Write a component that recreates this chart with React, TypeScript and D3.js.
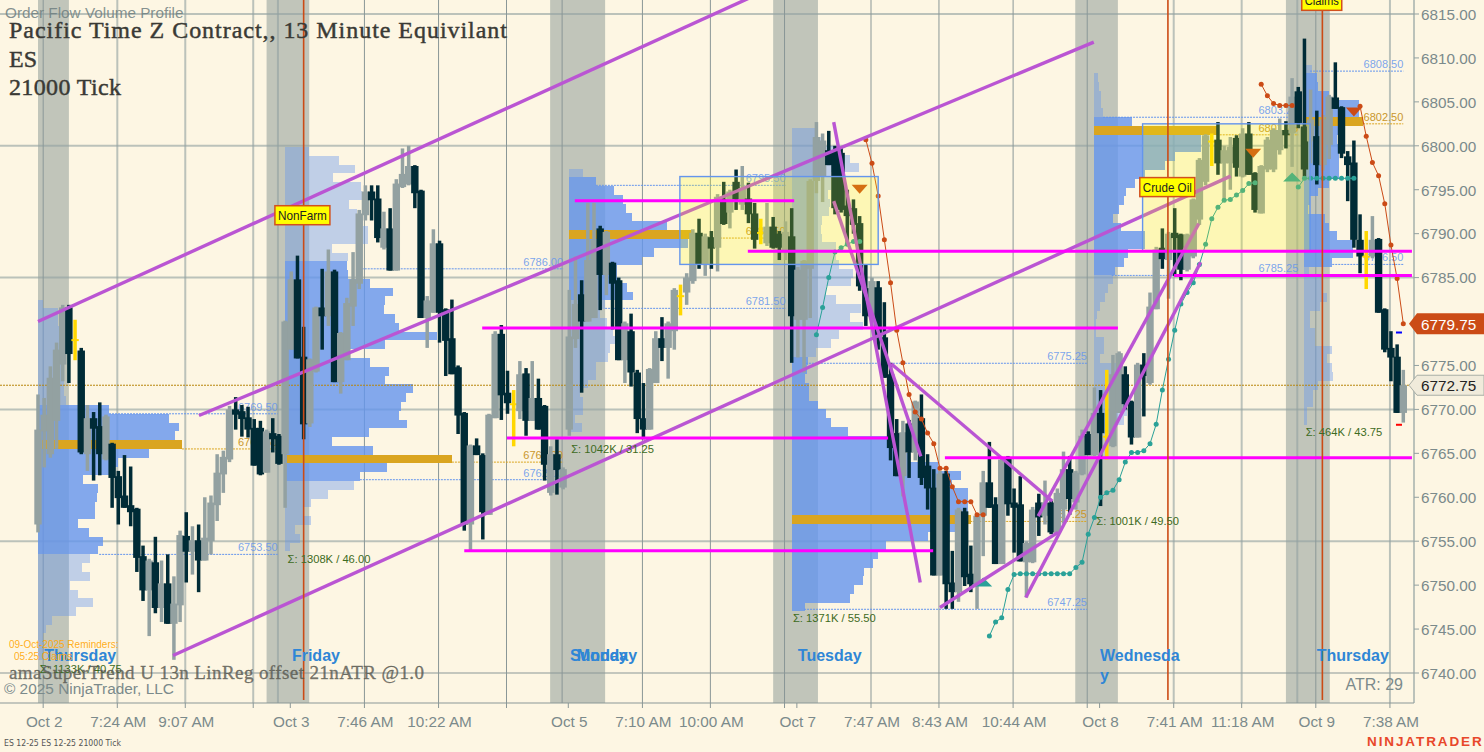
import * as d3 from "d3";

const WIDTH = 1484;
const HEIGHT = 752;

// bar values
const barOpen = [
  6756.9,6767.5,6764.9,6768.7,6775.1,6781.6,6778,6776.7,6764.9,6769,
  6768.1,6764.3,6766.1,6762.4,6760.2,6759.1,6758.7,6753.3,6749.4,6752.6,
  6747.4,6750.2,6745.6,6747.7,6755.6,6753.8,6755.1,6752.8,6755,6759.1,
  6762.6,6764.3,6770,6769.8,6769.1,6767.9,6767.9,6762.8,6767.3,6767,
  6764.9,6776.8,6784.8,6776,6768.4,6774.3,6781.6,6780.6,6785.7,6773.1,
  6775.6,6781.7,6784.3,6792.1,6794.8,6794,6788.4,6790.6,6785.8,6795.3,
  6795.6,6797.7,6794.9,6780.4,6781,6788.9,6781.4,6778.1,6774.8,6769.6,
  6756.9,6765.9,6764.8,6758,6769,6778.6,6771.9,6770.7,6769.8,6774.1,
  6768.7,6771.3,6770.4,6760.5,6764.9,6761.1,6767.7,6778,6783.1,6780,
  6780.4,6790.6,6785.3,6786.7,6784.7,6775.6,6778.9,6774.2,6769,6767.7,
  6773,6778.1,6777,6778.9,6783,6783.3,6784.6,6790.1,6786.5,6789.6,
  6788.4,6793.9,6792.4,6795.9,6793.3,6794,6792.3,6790.2,6788.9,6790.8,
  6790,6788,6789.7,6780.2,6780.2,6786,6796,6796.5,6799.5,6799.5,
  6799.2,6793.2,6792.9,6791.2,6783.8,6780.6,6783.9,6778.2,6774,6767.3,
  6762.4,6768.4,6765.1,6769,6763.6,6761.1,6751.1,6762.7,6750.3,6749.2,
  6758.4,6751.3,6750.1,6757.9,6761.7,6759.2,6752.4,6764.5,6759.4,6759.2,
  6752.6,6752.6,6759.4,6757.9,6759.4,6756,6758.6,6763.2,6759.4,6762.6,
  6767.2,6764.8,6769.6,6767,6765.8,6769.6,6774,6770.9,6766.8,6775.1,
  6773,6781.4,6788.4,6787,6790.1,6789.9,6785.9,6787.4,6791.6,6795.9,
  6800.6,6800.7,6798,6798,6800.9,6796.5,6801.4,6796.9,6792.3,6797.3,
  6797.3,6799.5,6801.8,6801.4,6806.2,6802.2,6800.5,6801.1,6797.8,6800.1,
  6805.5,6804.4,6798.8,6798.1,6789.3,6787.5,6787.4,6789.4,6781.4,6777,
  6776,6769.6,
];
const barHigh = [
  6771.7,6771.3,6774.9,6777.6,6781.9,6781.9,6780.2,6777,6770.5,6769.7,
  6770.8,6769.4,6766.2,6763,6764.8,6763.5,6758.8,6754.5,6753,6755.5,
  6752.8,6753.5,6751,6756.2,6758.3,6756.7,6756.9,6760,6760.2,6764.9,
  6765.3,6770.4,6771.4,6770.5,6770.3,6768.9,6768.7,6767.7,6769,6767.2,
  6780.1,6785.7,6787.5,6779.4,6775.8,6781.7,6786,6788.2,6785.9,6778.8,
  6782.7,6787.9,6792.7,6795.5,6795.5,6795.5,6792.5,6792.9,6796.2,6799.7,
  6800,6797.8,6795,6782.9,6790.5,6789.2,6781.5,6782.5,6775,6769.7,
  6766,6766.7,6765,6769.5,6778.9,6779.6,6774.4,6772.2,6775.5,6774.7,
  6775.5,6773.5,6770.5,6765.8,6766.6,6763.4,6783.6,6787.4,6784.7,6793.5,
  6793.5,6790.9,6790.3,6786.8,6785,6780,6780.9,6774.5,6773,6774.7,
  6778.9,6780.5,6780,6783.8,6784.2,6785.5,6790.5,6791.7,6790,6790.3,
  6794.5,6795.9,6795,6797.3,6797.7,6795.8,6793.5,6791.7,6793.5,6791.9,
  6790.3,6791.4,6792.9,6786.2,6787,6796.2,6802.7,6801.4,6801.7,6800,
  6799.8,6795,6793.9,6792,6786.5,6785,6784.6,6782.2,6775.3,6768.9,
  6768.7,6768.8,6771,6771.7,6764.9,6763.2,6763,6763,6753.9,6758.8,
  6758.8,6754.5,6758.1,6763,6766.3,6760,6764.5,6764.7,6761,6762.4,
  6755,6758.9,6760.4,6761.9,6759.6,6761,6765.2,6764.7,6763,6767.7,
  6767.5,6772.5,6772.2,6774.5,6776.2,6776.6,6774.9,6771,6775.3,6776.4,
  6783.3,6788.5,6790.6,6790.2,6792.9,6790,6790,6794,6798.6,6801.3,
  6801.4,6802.7,6800,6801,6801.2,6802,6802.7,6797,6797.8,6801,
  6802,6803.1,6802.8,6807.7,6806.7,6812.2,6806.4,6804,6803.5,6805.8,
  6809.5,6804.5,6799.4,6800.6,6792.2,6790.3,6792,6789.5,6781.5,6778.9,
  6777.4,6774.5,
];
const barLow = [
  6756,6763.4,6764.5,6765.5,6773.2,6773,6775.6,6764.9,6763,6761.9,
  6762.5,6764.2,6758.8,6756.9,6758.8,6756.7,6751.5,6748.2,6744.2,6746.8,
  6745.8,6745.6,6741.5,6745.8,6750.3,6751.2,6749.2,6752.8,6753.5,6757.3,
  6760.5,6764,6767.7,6766.9,6766.8,6763.6,6762.5,6762.8,6765.1,6763.7,
  6758.8,6776.8,6775.8,6766.6,6768,6774.2,6776.8,6779.5,6773.1,6771.8,
  6775.6,6779.5,6783.7,6791.5,6791.5,6789,6788.2,6785.8,6785.8,6795.2,
  6795.5,6792.9,6780.4,6777,6781,6777.6,6773.8,6774,6767.2,6756.2,
  6754,6764.8,6755.2,6758,6769,6768.8,6769.5,6765.8,6768.9,6767,
  6768.7,6767.7,6761.9,6760.2,6760.3,6760.9,6767,6777,6771.9,6780,
  6780.4,6781.3,6783,6779.1,6775.6,6773,6772.6,6767.3,6766.6,6767.7,
  6773,6775.5,6773.5,6776.8,6780.7,6781.9,6784.3,6786,6785.2,6786,
  6785.7,6791,6790.6,6792.7,6792.7,6791.2,6788.3,6788.8,6788.6,6788.3,
  6787,6787,6775.3,6775.9,6774.2,6780.4,6794.6,6793.6,6797.8,6792.2,
  6792.4,6788.9,6790,6783.5,6779.5,6779.5,6776.8,6773.6,6764.2,6762.4,
  6760.1,6762.2,6764.2,6761.4,6758.6,6751.1,6751.1,6747.3,6747.3,6748.1,
  6749.9,6749.2,6747.3,6753.3,6758.8,6752.4,6752.4,6757.9,6753.7,6752.7,
  6748.6,6752.5,6755.6,6756.9,6755.8,6755.8,6757,6758,6758.6,6762.5,
  6764.8,6764.7,6759,6764.3,6765.7,6769.6,6770,6766,6766.8,6769.2,
  6772.8,6781.4,6786,6782.6,6785.2,6784.7,6785.7,6787.2,6791,6795.5,
  6797.7,6796.7,6793.9,6795,6796.5,6796.4,6796.7,6792.4,6792.3,6797,
  6797,6799,6799.7,6797.6,6802,6796.5,6798,6795.6,6797.2,6798.5,
  6804.2,6798.6,6793.7,6788.4,6785.5,6783.7,6787.2,6781,6776.5,6773.2,
  6769.6,6768.5,
];
const barClose = [
  6767.7,6769.4,6773.6,6776.8,6781.6,6776.3,6777.9,6765.1,6769,6767.8,
  6764.9,6769.2,6762.2,6759.9,6758.8,6758.3,6753.1,6749.4,6752.8,6747.4,
  6750.2,6745.6,6747.9,6755.7,6753.8,6755.1,6752.8,6755.4,6759.4,6762.8,
  6764.6,6770,6769.4,6768.9,6767.7,6763.6,6762.6,6767.5,6766.6,6763.8,
  6780,6784.8,6775.8,6768.3,6775.7,6781.6,6780.6,6785.7,6773.1,6778.7,
  6782.1,6784.8,6792.3,6794.8,6793.8,6789.5,6790.6,6785.8,6795.7,6796.8,
  6797.7,6794.6,6780.4,6782.4,6788.9,6781,6777.8,6774,6769.3,6756.9,
  6765.9,6764.8,6758.3,6769.4,6778.6,6771.6,6770.7,6770.6,6774,6768.7,
  6771.3,6767.7,6763.7,6764.9,6763.1,6763.2,6778.3,6782,6780,6787,
  6789.3,6785.3,6790.2,6784.3,6775.6,6779.8,6774.2,6768.9,6767.7,6774.6,
  6778.1,6777,6779.8,6783.6,6782.9,6785,6790.1,6786.5,6789.7,6788.3,
  6794.2,6791.1,6794.8,6793.9,6795.2,6792.2,6789.3,6790.1,6790.8,6788.4,
  6788.4,6790.2,6780.6,6785.9,6786.9,6796,6801,6800.6,6797.8,6792.9,
  6792.7,6792,6791,6784,6780.6,6784.6,6778.3,6773.6,6765.6,6762.4,
  6767.4,6765.1,6770.9,6762.2,6761,6751.1,6762.7,6750.1,6749.2,6758.6,
  6750.9,6750.1,6757.9,6761.7,6758.8,6752.4,6764.3,6759.2,6758.8,6752.7,
  6754.8,6758.6,6757.7,6759.4,6756,6760.5,6763.2,6759.8,6762.8,6767,
  6764.8,6769.6,6767.3,6766.9,6774,6776.4,6770.6,6766.8,6775.1,6773.8,
  6781.7,6788.2,6787.1,6790,6789.5,6785.9,6789.9,6793.9,6798.4,6801.2,
  6800.5,6798,6799.5,6799.9,6797.5,6801.4,6796.7,6792.7,6797.7,6800.7,
  6801.8,6801.8,6801.2,6805.6,6802.6,6797.3,6803,6797.8,6803,6805.6,
  6804.2,6799.1,6797.8,6789.3,6787.4,6787.4,6789.3,6781,6776.8,6775.9,
  6769.6,6772.75,
];
const yellowBars = [6, 77, 104, 117, 173, 190, 215];

const priceTicks = [6815, 6810, 6805, 6800, 6795, 6790, 6785, 6780, 6775, 6770, 6765, 6760, 6755, 6750, 6745, 6740];
const priceGrid = [6815, 6800, 6785, 6770, 6755];

const gridBarsLight = [13, 24, 35, 39, 184, 195, 204, 219];
const gridBarsDark = [1, 53, 65, 76, 85, 98, 109, 121, 135, 146, 158, 170, 207];
const tickBars = [1, 13, 24, 35, 41, 53, 65, 76, 86, 98, 109, 121, 123, 135, 146, 158, 170, 172, 184, 195, 207, 219];
const timeLabels: Array<[number, string]> = [
  [1, "Oct 2"], [13, "7:24 AM"], [24, "9:07 AM"], [41, "Oct 3"], [53, "7:46 AM"], [65, "10:22 AM"],
  [86, "Oct 5"], [98, "7:10 AM"], [109, "10:00 AM"], [123, "Oct 7"], [135, "7:47 AM"], [146, "8:43 AM"],
  [158, "10:44 AM"], [172, "Oct 8"], [184, "7:41 AM"], [195, "11:18 AM"], [207, "Oct 9"], [219, "7:38 AM"],
];

// pre-market sessions, in bars
const sessionBands: Array<[number, number]> = [[0, 5], [37, 43.9], [82.9, 91.8], [119, 126.25], [167.9, 174.8], [202, 209.1]];
const newsLines = [43, 182.9, 207.9];

// volume profiles: one value per point of price, top down
const profile1 = [5,20,20,23,23,23,23,23,25,26,26,28, 71,131,141,137,144,111,80,72,45,60,59,57,57,40,51,65,60, 52,44,52,32,40,55,38,14,8,5,5,5];
const profile2 = [24,54,70,48,76,77,64,72,78,83,83,47,63, 62,63,85,108,100,99,110,114,152,100,65,85,104,100,128,121,116,114,122,84,47,88,167,102,75, 69,43,26,18,26,10,15,5];
const profile3 = [14, 27,45,54,57,63,98,124,119,85,73,48,48,58,64, 36,31,38,44,46,41,39,27,27,19,11,14,14,6,13];
const profile4 = [24,30,42,58,67,39,39,36,38,37,30,29,30,44,44,47,61,59,34,44,69,58,71,47,39,24, 16,15,13,17,17,26,34,39,56,96,104,118,146,169,160,176,176,176,179,164,136,94,86,81,72,71,62,58,13];
const profile5 = [4,5,7,7,9, 38,123,107,107,81,71,51,41,32,30,25,19,27,51,51,34,30,21, 19,14,11,6,3,2,2,10,10,6,26,26,30,30,33,33,30,18];
const profile6 = [8,13,14,25,55,55,59,40,33,35,35,35,35,25,14,6,4,21,25,33,49,49,28,5,18,18,23,16,6,6,11,11,28,23,28,29,14,9,9,3,3];

const profiles = [
  { bar: 0, top: 6782.5, rows: profile1, vaFrom: 12, vaTo: 29, poc: 16, pocInset: 4 },
  { bar: 40, top: 6799.85, rows: profile2, vaFrom: 13, vaTo: 38, poc: 35, pocInset: 2 },
  { bar: 86, top: 6797.4, rows: profile3, vaFrom: 1, vaTo: 15, poc: 7, pocInset: 0 },
  { bar: 122, top: 6802, rows: profile4, vaFrom: 26, vaTo: 55, poc: 44, pocInset: 0 },
  { bar: 171, top: 6808.25, rows: profile5, vaFrom: 5, vaTo: 23, poc: 6, pocInset: 0 },
  { bar: 205, top: 6809.25, rows: profile6, vaFrom: 1, vaTo: 23, poc: 6, pocInset: 0 },
];

// dashed levels: price, from bar, to bar, label
const blueLevels: Array<[number, number, number, string]> = [
  [6769.5, 11.5, 38.8, "6769.50"], [6753.5, 9.9, 38.8, "6753.50"], [6786, 52.4, 85, "6786.00"],
  [6762, 52.1, 85, "6762.00"], [6795.5, 90.3, 121, "6795.50"], [6781.5, 91.8, 121, "6781.50"],
  [6775.25, 124.3, 169.8, "6775.25"], [6747.25, 124, 169.8, "6747.25"], [6803.25, 172.4, 204, "6803.25"],
  [6785.25, 173.8, 204, "6785.25"], [6808.5, 205.9, 221, "6808.50"], [6786.5, 209.5, 221, "6786.50"],
];
const goldLevels: Array<[number, number, number, string]> = [
  [6765.5, 23.3, 38.8, "6765.50"], [6764, 67, 85, "6764.00"], [6789.5, 106, 121, "6789.50"],
  [6757.25, 150.9, 169.8, "6757.25"], [6801.25, 190.8, 204, "6801.25"], [6802.5, 214.5, 221, "6802.50"],
];

const trendLines: Array<[number, number, number, number]> = [
  [0, 6780, 115.2, 6816.84], [26.06, 6769.3, 170.9, 6811.8], [21.85, 6742, 193.05, 6796.55],
  [128.8, 6802.7, 142.8, 6750.3], [128.8, 6793.7, 142.9, 6764.65], [138.1, 6775.2, 164.2, 6759.55],
  [146, 6747.45, 165.1, 6756], [159.9, 6748.6, 188.2, 6786.75], [161.9, 6757.85, 187.9, 6791.15],
];
const supportLines: Array<[number, number, number]> = [
  [6793.75, 86.9, 122.4], [6788, 114.9, 222.4], [6785.25, 183.9, 222.4], [6779.25, 71.9, 174.8],
  [6766.75, 75.9, 137.6], [6764.5, 146.8, 222.4], [6753.9, 69, 144.9],
];
const rangeBoxes: Array<[number, number, number, number]> = [[103.9, 136, 6796.5, 6786.5], [178.8, 205.9, 6802.5, 6788]];

// supertrend legs: first bar and one price per bar
const trendUp1 = [6778.5,6781.6,6785,6787.9,6788.4,6788.8,6789.1,6789.1];
const trendDown1 = [6800.7,6798,6794.3,6789.3,6784.4,6779,6775.3,6771.7,6769.7,6768.9,6767.3,6766.1,6763.3,6763.3,6761.2,6759.5,6759.5,6759.5,6758,6758];
const trendUp2 = [6744.2,6745.8,6746.3,6749.5,6751.2,6751.3,6751.3,6751.3,6751.3,6751.3,6751.3,6751.3,6751.3,6751.3,6752,6752.6,6755.8,6757.7,6760,6760.5,6760.8,6762,6764,6765.1,6765.1,6765.3,6766.1,6768.3,6772.2,6775.7,6779,6782,6783.3,6784.4,6786.5,6788.8,6791.7,6793,6793.8,6793.9,6794.4,6794.9,6795.7,6795.8];
const trendDown2 = [6807,6805.7,6804.8,6804.6,6804.6,6804.6];
const trendUp3 = [6795.3,6796.3,6796.3,6796.3,6796.3,6796.3,6796.3,6796.3,6796.3,6796.3];
const trendDown3 = [6804.5,6801.1,6798.1,6796.6,6793.4,6788.7,6784.9,6779.75];
const trendLegs: Array<[number, number[], string]> = [
  [126, trendUp1, "#2aa198"], [134, trendDown1, "#cb4b16"], [154, trendUp2, "#2aa198"],
  [198, trendDown2, "#cb4b16"], [204, trendUp3, "#2aa198"], [214, trendDown3, "#cb4b16"],
];
const arrowsDown: Array<[number, number]> = [[133, 6795.1], [196.7, 6799.2], [213, 6803.9]];
const arrowsUp: Array<[number, number]> = [[153, 6750.3], [203, 6796.4]];

const volumeNotes: Array<[number, number, string]> = [
  [0.3, 6740.45, "Σ: 1133K / 40.75"], [40.4, 6753, "Σ: 1308K / 46.00"], [86.3, 6765.5, "Σ: 1042K / 31.25"],
  [122.2, 6746.26, "Σ: 1371K / 55.50"], [171.3, 6757.3, "Σ: 1001K / 49.50"], [205.2, 6767.4, "Σ: 464K / 43.75"],
];
const dayLabels: Array<[number, string]> = [[1, "Thursday"], [41.1, "Friday"], [86.1, "Sunday"], [87.2, "Monday"], [123, "Tuesday"], [207, "Thursday"]];
const eventFlags: Array<[number, number, string, number]> = [[42.8, 6792.1, "NonFarm", 55], [182.8, 6795.3, "Crude Oil", 55], [207.8, 6816.5, "Claims", 40]];

const x = d3.scaleLinear().domain([0, 221]).range([38, 1403.3]);
const y = d3.scaleLinear().domain([6740, 6815]).range([673, 14]);
const volumeWidth = d3.scaleLinear().domain([0, 200]).range([0, 200]);
const legLine = d3.line<[number, number]>().x((d) => x(d[0])).y((d) => y(d[1]));

const SANS = "'Liberation Sans', Arial, sans-serif";
const SERIF = "'Liberation Serif', serif";
const AXIS_TEXT = "#7b8a8b";
const PLOT_BOTTOM = 703;
const AXIS_X = 1414;

// rows of a profile as one path, snapped to the pixel so the rows do not show seams
function profilePath(pf: (typeof profiles)[number], keep: (r: number) => boolean) {
  const path = d3.path();
  pf.rows.forEach((v, r) => {
    if (!keep(r)) return;
    const top = Math.round(y(pf.top - r));
    const bottom = Math.round(y(pf.top - r - 1));
    path.rect(Math.round(x(pf.bar)), top, Math.round(volumeWidth(v)), bottom - top);
  });
  return path.toString();
}

export default function App() {
  return (
    <svg
      width={WIDTH}
      height={HEIGHT}
      viewBox={`0 0 ${WIDTH} ${HEIGHT}`}
      style={{ position: "absolute", left: 0, top: 0, background: "#fdf6e3", fontFamily: SANS }}
    >
      {/* Sessions */}
      {sessionBands.map(([a, b], i) => (
        <rect key={i} x={x(a)} y={0} width={x(b) - x(a)} height={PLOT_BOTTOM} fill="#c1c5ba" />
      ))}

      {/* Grid */}
      {priceGrid.map((p) => (
        <line key={p} x1={0} x2={AXIS_X} y1={y(p)} y2={y(p)} stroke="#93a1a1" strokeOpacity={0.62} strokeWidth={2} />
      ))}
      <line x1={0} x2={AXIS_X} y1={y(6740)} y2={y(6740)} stroke="#8a9797" strokeWidth={1} />
      {gridBarsLight.map((b) => (
        <line key={b} x1={x(b) - 1} x2={x(b) - 1} y1={0} y2={PLOT_BOTTOM} stroke="#93a1a1" strokeOpacity={0.62} strokeWidth={2} />
      ))}
      {gridBarsDark.map((b) => (
        <line key={b} x1={x(b) - 1} x2={x(b) - 1} y1={0} y2={PLOT_BOTTOM} stroke="#8a9797" strokeWidth={1} />
      ))}

      {/* Volume profiles */}
      {profiles.map((pf, i) => {
        const pocTop = Math.round(y(pf.top - pf.poc));
        return (
          <g key={i} shapeRendering="crispEdges">
            <path d={profilePath(pf, (r) => r >= pf.vaFrom && r < pf.vaTo)} fill="#6495ed" fillOpacity={0.8} />
            <path d={profilePath(pf, (r) => r < pf.vaFrom || r >= pf.vaTo)} fill="#6495ed" fillOpacity={0.4} />
            <rect
              x={Math.round(x(pf.bar)) + pf.pocInset}
              y={pocTop}
              width={Math.round(volumeWidth(pf.rows[pf.poc])) - pf.pocInset}
              height={Math.round(y(pf.top - pf.poc - 1)) - pocTop}
              fill="#daa520"
            />
          </g>
        );
      })}

      {/* Naked levels */}
      {blueLevels.map(([p, a, b, label]) => (
        <g key={label}>
          <line x1={x(a)} x2={x(b)} y1={y(p)} y2={y(p)} stroke="#6495ed" strokeWidth={1} strokeDasharray="2 1" />
          <text x={x(b)} y={y(p) - 3} textAnchor="end" fontSize={11} fill="#6495ed" fillOpacity={0.85}>{label}</text>
        </g>
      ))}
      {goldLevels.map(([p, a, b, label]) => (
        <g key={label}>
          <line x1={x(a)} x2={x(b)} y1={y(p)} y2={y(p)} stroke="#daa520" strokeWidth={1} strokeDasharray="2 1" />
          <text x={x(b)} y={y(p) - 3} textAnchor="end" fontSize={11} fill="#c9962c">{label}</text>
        </g>
      ))}
      <line x1={0} x2={AXIS_X} y1={y(6772.75)} y2={y(6772.75)} stroke="#b8860b" strokeWidth={1} strokeDasharray="2 1" />

      {/* Candles */}
      {barOpen.map((o, i) => {
        const c = barClose[i];
        const isYellow = yellowBars.includes(i);
        const color = isYellow ? "#ffd700" : c < o ? "#002b36" : "#93a1a1";
        const top = y(Math.max(o, c));
        const h = Math.max(1, y(Math.min(o, c)) - top);
        return (
          <g key={i}>
            <rect x={x(i) - 1.75} y={y(barHigh[i])} width={3.5} height={y(barLow[i]) - y(barHigh[i])} fill={color} />
            <rect x={x(i) - 3.7} y={top} width={7.4} height={isYellow ? 2 : h} fill={color} />
          </g>
        );
      })}

      {/* Buy and sell marks */}
      <rect x={x(220.3) - 3} y={y(6778.75) - 1} width={6} height={2} fill="#0000ff" />
      <rect x={x(220.3) - 3} y={y(6768.25) - 1} width={6} height={2} fill="#ff0000" />

      {/* Supertrend */}
      {trendLegs.map(([start, prices, color], i) => {
        const pts = prices.map((p, k) => [start + k, p] as [number, number]);
        return (
          <g key={i}>
            <path d={legLine(pts) ?? ""} fill="none" stroke={color} strokeWidth={1} />
            {pts.map((d, k) => (
              <circle key={k} cx={x(d[0])} cy={y(d[1])} r={2.5} fill={color} />
            ))}
          </g>
        );
      })}
      {arrowsDown.map(([b, p], i) => (
        <path key={i} d={`M${x(b) - 8},${y(p) - 4}h16l-8,9z`} fill="#cb4b16" />
      ))}
      {arrowsUp.map(([b, p], i) => (
        <path key={i} d={`M${x(b) - 9},${y(p) + 4}h18l-9,-9z`} fill="#2aa198" />
      ))}

      {/* Drawn lines */}
      {trendLines.map(([b1, p1, b2, p2], i) => (
        <line key={i} x1={x(b1)} y1={y(p1)} x2={x(b2)} y2={y(p2)} stroke="#ba55d3" strokeWidth={3.4} />
      ))}
      {rangeBoxes.map(([b1, b2, p1, p2], i) => (
        <rect
          key={i}
          x={x(b1)}
          y={y(p1)}
          width={x(b2) - x(b1)}
          height={y(p2) - y(p1)}
          fill="#ffff00"
          fillOpacity={0.2}
          stroke="#6495ed"
          strokeWidth={1.4}
        />
      ))}
      {supportLines.map(([p, a, b], i) => (
        <line key={i} x1={x(a)} x2={x(b)} y1={y(p)} y2={y(p)} stroke="#ff00ff" strokeWidth={3} />
      ))}

      {/* News lines and flags */}
      {newsLines.map((b) => (
        <line key={b} x1={x(b)} x2={x(b)} y1={0} y2={700} stroke="#cb4b16" strokeWidth={1.6} />
      ))}
      {eventFlags.map(([b, p, label, w]) => (
        <g key={label}>
          <rect x={x(b) - w / 2} y={y(p) - 9.5} width={w} height={19} fill="#ffff00" stroke="#d2501e" strokeWidth={1.5} />
          <text x={x(b)} y={y(p) + 4.5} textAnchor="middle" fontSize={13} fill="#222" textLength={w - 6} lengthAdjust="spacingAndGlyphs">{label}</text>
        </g>
      ))}

      {/* Texts on the chart */}
      {volumeNotes.map(([b, p, label]) => (
        <text key={label} x={x(b)} y={y(p)} dy="0.35em" fontSize={11.2} fill="#3d6b22">{label}</text>
      ))}
      {dayLabels.map(([b, label], i) => (
        <text key={i} x={x(b)} y={661} fontSize={16} fontWeight="bold" fill="#2f86d6">{label}</text>
      ))}
      <text x={1100} y={661} fontSize={16} fontWeight="bold" fill="#2f86d6">Wednesda</text>
      <text x={1100} y={681} fontSize={16} fontWeight="bold" fill="#2f86d6">y</text>

      <text x={9} y={644} dy="0.35em" fontSize={10} fill="#ffa500" fillOpacity={0.9}>09-Oct-2025 Reminders:</text>
      <text x={14} y={656} dy="0.35em" fontSize={10} fill="#ffa500" fillOpacity={0.9}>05:25 Claims</text>

      <text x={5} y={18} fontSize={15.3} fill="#6f7f80" fillOpacity={0.85}>Order Flow Volume Profile</text>
      <g fontFamily={SERIF} fontSize={24} fill="#3a3a35" stroke="#3a3a35" strokeWidth={0.45}>
        <text x={9} y={38} textLength={498}>Pacific Time Z Contract,, 13 Minute Equivilant</text>
        <text x={9} y={67}>ES</text>
        <text x={9} y={95} textLength={112}>21000 Tick</text>
      </g>
      <text x={9} y={679} fontFamily={SERIF} fontSize={19} fill="#57574f" stroke="#57574f" strokeWidth={0.35} fillOpacity={0.8} strokeOpacity={0.8} textLength={415}>amaSuperTrend U 13n LinReg offset 21nATR @1.0</text>
      <text x={4} y={694} fontSize={15.4} fill="#7b8a8b">© 2025 NinjaTrader, LLC</text>
      <text x={1403} y={689.5} textAnchor="end" fontSize={16} fill="#7b8a8b">ATR: 29</text>

      {/* Axes */}
      <line x1={0} x2={AXIS_X} y1={PLOT_BOTTOM} y2={PLOT_BOTTOM} stroke="#8a9797" strokeWidth={1} />
      <line x1={AXIS_X} x2={AXIS_X} y1={0} y2={PLOT_BOTTOM} stroke="#93a1a1" strokeOpacity={0.62} strokeWidth={2} />
      {tickBars.map((b) => (
        <line key={b} x1={x(b) - 1} x2={x(b) - 1} y1={PLOT_BOTTOM} y2={PLOT_BOTTOM + 5} stroke="#8a9797" />
      ))}
      {timeLabels.map(([b, label]) => (
        <text key={label} x={x(b)} y={722} dy="0.35em" textAnchor="middle" fontSize={15.3} fill={AXIS_TEXT}>{label}</text>
      ))}
      {priceTicks.map((p) => (
        <g key={p}>
          <line x1={AXIS_X} x2={AXIS_X + 5} y1={y(p)} y2={y(p)} stroke="#93a1a1" />
          <text x={1421} y={y(p)} dy="0.38em" fontSize={15.3} fill={AXIS_TEXT}>{p.toFixed(2)}</text>
        </g>
      ))}

      {/* Price tags */}
      <path d={`M1409,${y(6779.75)}l8,-10.5H1484v21H1417z`} fill="#cb4b16" />
      <text x={1421} y={y(6779.75)} dy="0.38em" fontSize={15.3} fill="#fff">6779.75</text>
      <path d={`M1409,${y(6772.75)}l8,-10H1484v20H1417z`} fill="#f0ebdb" stroke="#a8aea6" />
      <text x={1421} y={y(6772.75)} dy="0.38em" fontSize={15.3} fill="#222">6772.75</text>

      {/* Footer */}
      <text x={4} y={746} fontSize={9} fill="#555" fontFamily="'DejaVu Sans', sans-serif" textLength={117} lengthAdjust="spacingAndGlyphs">ES 12-25 ES 12-25 21000 Tick</text>
      <text x={1367} y={746} fontSize={13.5} fontWeight="bold" fill="#e8472a" letterSpacing={1.9}>NINJATRADER</text>
    </svg>
  );
}
